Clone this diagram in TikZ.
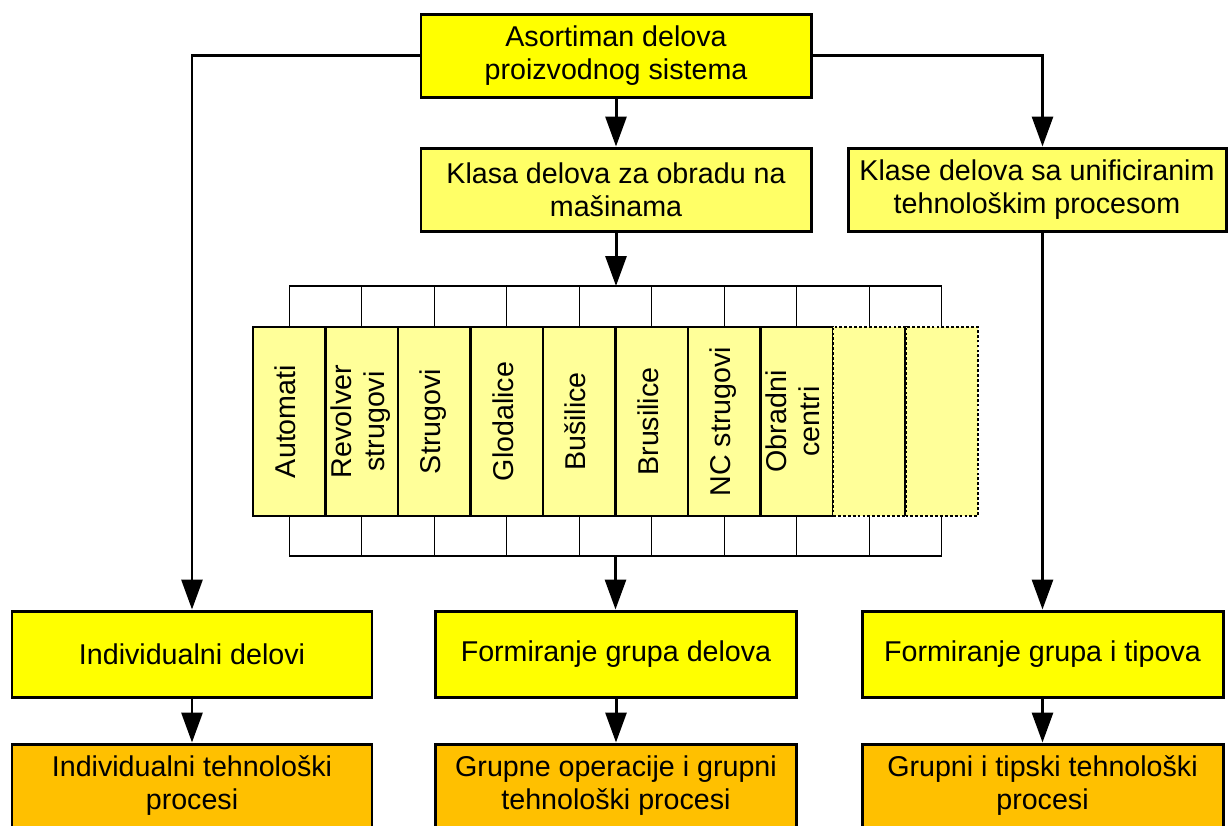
\documentclass[tikz,border=0pt]{standalone}
\usepackage{fontspec}
\setmainfont{Liberation Sans}
\usepackage{tikz}
\usetikzlibrary{arrows.meta, positioning}
\definecolor{boxyellow}{RGB}{255, 255, 0}
\definecolor{lightyellow}{RGB}{255, 255, 102}
\definecolor{paleyellow}{RGB}{255, 255, 153}
\definecolor{procorange}{RGB}{255, 192, 0}

\begin{document}
\begin{tikzpicture}[
    font=\fontsize{16.3}{18.8}\selectfont,
    box/.style={draw=black, fill=boxyellow, line width=1.7pt, minimum width=7.8cm,
                minimum height=1.66cm, align=center, inner sep=2pt},
    lightbox/.style={box, fill=lightyellow},
    groupbox/.style={box, minimum width=7.22cm, minimum height=1.72cm},
    procbox/.style={box, fill=procorange, minimum width=7.22cm},
    machine/.style={draw=black, fill=paleyellow, line width=1.4pt, minimum width=1.45cm,
                    minimum height=3.78cm, inner sep=0pt, outer sep=0pt},
    spare/.style={machine, dash pattern=on 1.6pt off 1.2pt},
    arrow/.style={-{Triangle[length=0.6cm, width=0.42cm]}, line width=1.7pt},
    comb/.style={line width=0.8pt},
]
    \useasboundingbox (0,0) rectangle (24.56,-16.5);

    % Part classes
    \node[box] (asort) at (12.32,-1.11) {Asortiman delova\\proizvodnog sistema};
    \node[lightbox] (klasa) at (12.32,-3.79) {Klasa delova za obradu na\\mašinama};
    \node[lightbox, minimum width=7.56cm] (klase) at (20.74,-3.79) {Klase delova sa unificiranim\\tehnološkim procesom};

    % Machine groups
    \foreach \name [count=\i] in {Automati, {Revolver\\strugovi}, Strugovi, Glodalice, Bušilice,
                                  Brusilice, NC strugovi, {Obradni\\centri}} {
        \node[machine] (col\i) at ({5.785+1.45*(\i-1)},-8.43)
            {\rotatebox{90}{\begin{tabular}{@{}c@{}}\name\end{tabular}}};
    }
    \node[spare, right=0pt of col8] (col9) {};
    \node[spare, right=0pt of col9] (col10) {};

    % Comb above and below
    \foreach \i in {1,...,10} {
        \draw[comb] (col\i.north) -- ++(0,0.82);
        \draw[comb] (col\i.south) -- ++(0,-0.8);
    }
    \draw[comb] ([yshift=0.82cm]col1.north) -- ([yshift=0.82cm]col10.north);
    \draw[comb] ([yshift=-0.8cm]col1.south) -- ([yshift=-0.8cm]col10.south);
    \coordinate (combtop) at ([yshift=0.82cm]col5.north east);
    \coordinate (combbot) at ([yshift=-0.8cm]col5.south east);

    % Groups
    \node[groupbox, minimum width=7.2cm] (indiv) at (3.84,-13.08) {Individualni delovi};
    \node[groupbox] (fdelova) at (12.32,-13.08) {Formiranje grupa delova};
    \node[groupbox] (ftipova) at (20.85,-13.08) {Formiranje grupa i tipova};

    % Processes
    \node[procbox, minimum width=7.2cm] (pindiv) at (3.84,-15.71) {Individualni tehnološki\\procesi};
    \node[procbox] (pgrupne) at (12.32,-15.71) {Grupne operacije i grupni\\tehnološki procesi};
    \node[procbox] (ptipske) at (20.85,-15.71) {Grupni i tipski tehnološki\\procesi};

    % Arrows
    \draw[arrow] (asort) -- (klasa);
    \draw[arrow] (asort.west) -| (indiv.north);
    \draw[arrow] (asort.east) -| (ftipova.north |- klase.north);
    \draw[arrow] (klasa.south) -- (klasa.south |- combtop);
    \draw[arrow] (combbot) -- (combbot |- fdelova.north);
    \draw[arrow] (klase.south -| ftipova.north) -- (ftipova.north);
    \draw[arrow] (indiv) -- (pindiv);
    \draw[arrow] (fdelova) -- (pgrupne);
    \draw[arrow] (ftipova) -- (ptipske);
\end{tikzpicture}
\end{document}
